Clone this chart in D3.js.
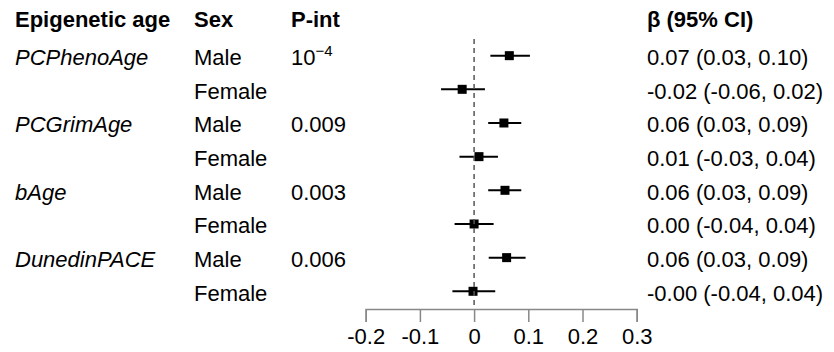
<!DOCTYPE html>
<html>
<head>
<meta charset="utf-8">
<script src="https://cdn.jsdelivr.net/npm/d3@7"></script>
<style>
  body { margin: 0; background: #fff; }
  svg { display: block; font-family: "Liberation Sans", Arial, sans-serif; }
</style>
</head>
<body>
<div id="chart"></div>
<script>
// rows of the forest plot, top to bottom
const ageNames = ['PCPhenoAge', '', 'PCGrimAge', '', 'bAge', '', 'DunedinPACE', ''];
const sexes = ['Male', 'Female', 'Male', 'Female', 'Male', 'Female', 'Male', 'Female'];
const pInt = ['10^-4', '', '0.009', '', '0.003', '', '0.006', ''];
const beta = [0.065, -0.022, 0.055, 0.009, 0.057, 0.000, 0.060, -0.002];
const lower = [0.030, -0.061, 0.026, -0.027, 0.026, -0.036, 0.027, -0.040];
const upper = [0.103, 0.020, 0.087, 0.044, 0.087, 0.036, 0.095, 0.039];
const ciLabels = ['0.07 (0.03, 0.10)', '-0.02 (-0.06, 0.02)', '0.06 (0.03, 0.09)', '0.01 (-0.03, 0.04)',
  '0.06 (0.03, 0.09)', '0.00 (-0.04, 0.04)', '0.06 (0.03, 0.09)', '-0.00 (-0.04, 0.04)'];
const headers = ['Epigenetic age', 'Sex', 'P-int', 'β (95% CI)'];
const xTicks = [-0.2, -0.1, 0, 0.1, 0.2, 0.3];

const width = 834, height = 352;
const colX = [15, 194, 291, 647];
const fs = 22;

const svg = d3.select('#chart').append('svg')
  .attr('width', width)
  .attr('height', height);

const x = d3.scaleLinear().domain([-0.2, 0.3]).range([365.7, 636.7]);
const y = d3.scalePoint().domain(d3.range(-1, 8)).range([22, 291.3]);
const axisY = 309;

// header row
svg.selectAll('.head')
  .data(headers)
  .enter()
  .append('text')
  .attr('class', 'head')
  .attr('x', (d, i) => colX[i])
  .attr('y', y(-1) + 5)
  .attr('font-size', fs)
  .attr('font-weight', 'bold')
  .text(d => d);

const rows = svg.selectAll('.row')
  .data(d3.range(sexes.length))
  .enter()
  .append('g')
  .attr('class', 'row')
  .attr('transform', i => `translate(0,${y(i)})`);

rows.append('text')
  .attr('x', colX[0])
  .attr('dy', 9.5)
  .attr('font-size', fs)
  .attr('font-style', 'italic')
  .text(i => ageNames[i]);

rows.append('text')
  .attr('x', colX[1])
  .attr('dy', 9.5)
  .attr('font-size', fs)
  .text(i => sexes[i]);

rows.append('text')
  .attr('x', colX[2])
  .attr('dy', 9.5)
  .attr('font-size', fs)
  .each(function (i) {
    const t = d3.select(this);
    const p = pInt[i];
    if (p.includes('^')) {
      const [base, exp] = p.split('^');
      t.append('tspan').text(base);
      t.append('tspan').attr('font-size', 15).attr('dy', -9).text(exp.replace('-', '\u2212'));
    } else {
      t.text(p);
    }
  });

rows.append('text')
  .attr('x', colX[3])
  .attr('dy', 9.5)
  .attr('font-size', fs)
  .text(i => ciLabels[i]);

// reference line at zero
svg.append('line')
  .attr('x1', x(0)).attr('x2', x(0))
  .attr('y1', 39).attr('y2', axisY)
  .attr('stroke', '#555')
  .attr('stroke-width', 1.5)
  .attr('stroke-dasharray', '5,4');

// confidence intervals and point estimates
rows.append('line')
  .attr('x1', i => x(lower[i]))
  .attr('x2', i => x(upper[i]))
  .attr('stroke', '#000')
  .attr('stroke-width', 2);

rows.append('rect')
  .attr('x', i => x(beta[i]) - 4.5)
  .attr('y', -4.5)
  .attr('width', 9)
  .attr('height', 9)
  .attr('fill', '#000');

// x axis
const axis = svg.append('g')
  .attr('transform', `translate(0,${axisY})`)
  .call(d3.axisBottom(x).tickValues(xTicks).tickSize(13).tickPadding(6).tickFormat(d3.format('')));

axis.select('.domain').attr('stroke', '#888').attr('stroke-width', 1.5);
axis.selectAll('.tick line').attr('stroke', '#888').attr('stroke-width', 1.5);
axis.selectAll('.tick text')
  .attr('font-size', fs)
  .attr('font-family', '"Liberation Sans", Arial, sans-serif')
  .attr('fill', '#000')
  .text(d => d === 0 ? '0' : d3.format('.1f')(d).replace('\u2212', '-'));
</script>
</body>
</html>
